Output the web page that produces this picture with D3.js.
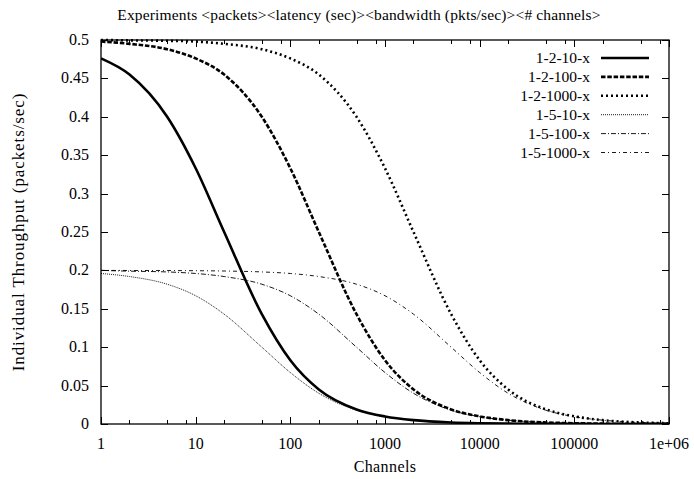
<!DOCTYPE html>
<html>
<head>
<meta charset="utf-8">
<script src="https://cdn.jsdelivr.net/npm/d3@7"></script>
<style>
  body { margin: 0; background: #fff; }
</style>
</head>
<body>
<svg id="chart" width="694" height="479"></svg>
<script>
const channels = [1, 2, 5, 10, 20, 50, 100, 200, 500, 1000, 2000, 5000,
  1e4, 2e4, 5e4, 1e5, 2e5, 5e5, 1e6];

const s1_2_10 = [0.476, 0.455, 0.400, 0.333, 0.250, 0.143, 0.083, 0.045, 0.019, 0.0098,
  0.005, 0.002, 0.001, 0.0005, 0.0002, 0.0001, 0.00005, 0.00002, 0.00001];
const s1_2_100 = [0.498, 0.495, 0.488, 0.476, 0.455, 0.400, 0.333, 0.250, 0.143, 0.083,
  0.045, 0.019, 0.010, 0.005, 0.002, 0.001, 0.0005, 0.0002, 0.0001];
const s1_2_1000 = [0.500, 0.4995, 0.499, 0.498, 0.495, 0.488, 0.476, 0.455, 0.400, 0.333,
  0.250, 0.143, 0.083, 0.045, 0.019, 0.010, 0.005, 0.002, 0.001];
const s1_5_10 = [0.196, 0.192, 0.182, 0.167, 0.143, 0.100, 0.067, 0.040, 0.018, 0.0095,
  0.005, 0.002, 0.001, 0.0005, 0.0002, 0.0001, 0.00005, 0.00002, 0.00001];
const s1_5_100 = [0.200, 0.199, 0.198, 0.196, 0.192, 0.182, 0.167, 0.143, 0.100, 0.067,
  0.040, 0.018, 0.0095, 0.005, 0.002, 0.001, 0.0005, 0.0002, 0.0001];
const s1_5_1000 = [0.200, 0.1999, 0.1998, 0.1996, 0.1992, 0.198, 0.196, 0.192, 0.182, 0.167,
  0.143, 0.100, 0.067, 0.040, 0.018, 0.0095, 0.005, 0.002, 0.001];

const seriesNames = ['1-2-10-x', '1-2-100-x', '1-2-1000-x', '1-5-10-x', '1-5-100-x', '1-5-1000-x'];
const seriesValues = [s1_2_10, s1_2_100, s1_2_1000, s1_5_10, s1_5_100, s1_5_1000];

const xTicks = [1, 10, 100, 1000, 10000, 100000, 1e6];
const xTickLabels = ['1', '10', '100', '1000', '10000', '100000', '1e+06'];
const yTicks = [0, 0.05, 0.1, 0.15, 0.2, 0.25, 0.3, 0.35, 0.4, 0.45, 0.5];

// gnuplot-ish line styles
const styles = [
  { width: 2.6, dash: null },
  { width: 2.6, dash: '4.5,1.8' },
  { width: 2.6, dash: '2,3' },
  { width: 0.9, dash: '1,1' },
  { width: 0.9, dash: '5,2,1,2' },
  { width: 0.9, dash: '4,3,1,3' },
];

const FONT = 'Liberation Serif';

const margin = { left: 101, right: 25, top: 40, bottom: 55 };
const W = 694, H = 479;

const svg = d3.select('#chart');

const x = d3.scaleLog().domain([1, 1e6]).range([margin.left, W - margin.right]);
const y = d3.scaleLinear().domain([0, 0.5]).range([H - margin.bottom, margin.top]);

// curves, clipped to the plot box
svg.append('clipPath').attr('id', 'plotclip')
  .append('rect')
  .attr('x', margin.left).attr('y', margin.top - 2)
  .attr('width', x(1e6) - margin.left).attr('height', y(0) - margin.top + 2);

let line = d3.line()
  .x(d => x(d[0]))
  .y(d => y(d[1]))
  .curve(d3.curveMonotoneX);

let plot = svg.append('g').attr('clip-path', 'url(#plotclip)');
seriesValues.forEach((vals, i) => {
  plot.append('path')
    .datum(channels.map((c, j) => [c, vals[j]]))
    .attr('d', line)
    .style('fill', 'none')
    .style('stroke', '#000')
    .style('stroke-width', styles[i].width)
    .style('stroke-dasharray', styles[i].dash);
});

// minor ticks (what survives in the picture: 2, 5, 8 per decade)
let minor = [];
for (let dec = 1; dec < 1e6; dec *= 10) {
  for (let m of [2, 5, 8]) minor.push(dec * m);
}

let ticks = svg.append('g').style('stroke', '#000').style('stroke-width', 1);
for (let v of xTicks) {
  let px = Math.round(x(v)) + 0.5;
  ticks.append('line').attr('x1', px).attr('x2', px).attr('y1', y(0)).attr('y2', y(0) - 7);
  ticks.append('line').attr('x1', px).attr('x2', px).attr('y1', y(0.5)).attr('y2', y(0.5) + 7);
}
for (let v of minor) {
  let px = Math.round(x(v)) + 0.5;
  ticks.append('line').attr('x1', px).attr('x2', px).attr('y1', y(0)).attr('y2', y(0) - 4);
  ticks.append('line').attr('x1', px).attr('x2', px).attr('y1', y(0.5)).attr('y2', y(0.5) + 4);
}
for (let v of yTicks) {
  let py = Math.round(y(v)) + 0.5;
  ticks.append('line').attr('x1', x(1)).attr('x2', x(1) + 7).attr('y1', py).attr('y2', py);
  ticks.append('line').attr('x1', x(1e6)).attr('x2', x(1e6) - 7).attr('y1', py).attr('y2', py);
}

// border
svg.append('rect')
  .attr('x', x(1)).attr('y', y(0.5))
  .attr('width', x(1e6) - x(1)).attr('height', y(0) - y(0.5))
  .style('fill', 'none').style('stroke', '#000').style('stroke-width', 1.3);

// tick labels
svg.append('g').selectAll('text').data(xTicks).join('text')
  .attr('x', d => x(d)).attr('y', y(0) + 25)
  .attr('text-anchor', 'middle')
  .attr('font-family', FONT).attr('font-size', 16)
  .text((d, i) => xTickLabels[i]);

svg.append('g').selectAll('text').data(yTicks).join('text')
  .attr('x', x(1) - 12).attr('y', d => y(d) + 5)
  .attr('text-anchor', 'end')
  .attr('font-family', FONT).attr('font-size', 16)
  .text(d => d3.format('~g')(d));

// titles
svg.append('text').attr('x', 359).attr('y', 20).attr('text-anchor', 'middle')
  .attr('font-family', FONT).attr('font-size', 15.5).attr('letter-spacing', 0.15)
  .text('Experiments <packets><latency (sec)><bandwidth (pkts/sec)><# channels>');

svg.append('text').attr('x', (x(1) + x(1e6)) / 2).attr('y', 472).attr('text-anchor', 'middle')
  .attr('font-family', FONT).attr('font-size', 16).attr('letter-spacing', 0.4)
  .text('Channels');

svg.append('text')
  .attr('transform', `translate(24, ${(y(0) + y(0.5)) / 2}) rotate(-90)`)
  .attr('text-anchor', 'middle')
  .attr('font-family', FONT).attr('font-size', 17).attr('letter-spacing', 0.9)
  .text('Individual Throughput (packets/sec)');

// legend
let legend = svg.append('g');
seriesNames.forEach((name, i) => {
  let ly = 58 + i * 18.9;
  legend.append('text').attr('x', 590).attr('y', ly + 5).attr('text-anchor', 'end')
    .attr('font-family', FONT).attr('font-size', 15.5)
    .text(name);
  legend.append('line')
    .attr('x1', 601).attr('x2', 649).attr('y1', ly).attr('y2', ly)
    .style('stroke', '#000')
    .style('stroke-width', styles[i].width)
    .style('stroke-dasharray', styles[i].dash);
});
</script>
</body>
</html>
